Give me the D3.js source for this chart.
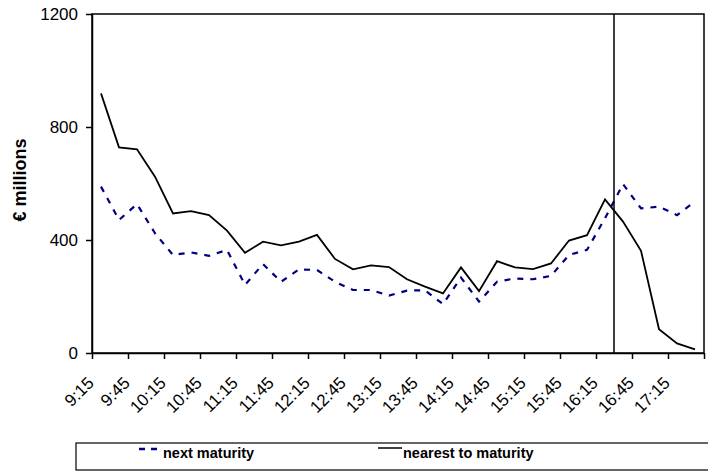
<!DOCTYPE html>
<html>
<head>
<meta charset="utf-8">
<script src="https://cdn.jsdelivr.net/npm/d3@7"></script>
<style>
  body { margin: 0; background: #fff; }
  svg { display: block; font-family: "Liberation Sans", Arial, sans-serif; }
  .axis path, .axis line { stroke: #000; stroke-width: 1.5; }
  .axis text { font-size: 17px; fill: #000; }
</style>
</head>
<body>
<script>

// 15 minute slots, 9:15 .. 17:30
var times = ["9:15","9:30","9:45","10:00","10:15","10:30","10:45","11:00","11:15","11:30",
             "11:45","12:00","12:15","12:30","12:45","13:00","13:15","13:30","13:45","14:00",
             "14:15","14:30","14:45","15:00","15:15","15:30","15:45","16:00","16:15","16:30",
             "16:45","17:00","17:15","17:30"];

var nextMaturity = [589, 471, 527, 424, 347, 356, 344, 365, 241, 315,
                    252, 296, 294, 252, 223, 223, 203, 221, 222, 173,
                    267, 182, 252, 264, 261, 273, 347, 365, 477, 598,
                    512, 518, 488, 536];

var nearestMaturity = [919, 728, 721, 624, 494, 502, 488, 433, 355, 394,
                       381, 394, 418, 333, 296, 310, 304, 261, 235, 211,
                       303, 219, 325, 303, 297, 317, 398, 417, 544, 465,
                       362, 84, 34, 13];

var yTicks = [0, 400, 800, 1200];
var expirySlot = "16:30";   // vertical marker sits on the left edge of this slot

var width = 708, height = 475;
var margin = {top: 14, right: 4, bottom: 122, left: 92};
var plotW = width - margin.left - margin.right,
    plotH = height - margin.top - margin.bottom;

var svg = d3.select("body").append("svg")
    .attr("width", width)
    .attr("height", height);

var g = svg.append("g")
    .attr("transform", "translate(" + margin.left + "," + margin.top + ")");

// index scale: slot i covers [i, i+1]
var x = d3.scaleLinear().domain([0, times.length]).range([0, plotW]);
var y = d3.scaleLinear().domain([0, 1200]).range([plotH, 0]);

// frame (top + right edge)
g.append("rect")
    .attr("width", plotW).attr("height", plotH)
    .attr("fill", "none").attr("stroke", "#000").attr("stroke-width", 1.5);

// y axis
g.append("g").attr("class", "axis")
    .call(d3.axisLeft(y).tickValues(yTicks).tickFormat(d3.format("d"))
      .tickSize(6).tickPadding(8).tickSizeOuter(0));

// x axis, ticks every 30 minutes
var xAxis = g.append("g").attr("class", "axis")
    .attr("transform", "translate(0," + plotH + ")")
    .call(d3.axisBottom(x).tickValues(d3.range(0, times.length + 1, 2))
      .tickFormat("").tickSize(6).tickSizeOuter(0));

xAxis.selectAll(".lbl")
    .data(times.filter(function(d, i) { return i % 2 == 0; }))
    .enter().append("text")
    .attr("class", "lbl")
    .attr("text-anchor", "end")
    .attr("transform", function(d, i) {
      return "translate(" + (x(i * 2 + 0.5) - 6) + ",31) rotate(-45)";
    })
    .text(function(d) { return d; });

// y axis title
svg.append("text")
    .attr("transform", "translate(26,180) rotate(-90)")
    .attr("text-anchor", "middle")
    .style("font-size", "18px")
    .style("font-weight", "bold")
    .text("€ millions");

var line = function(vals) {
  return d3.line()
    .x(function(d, i) { return x(i + 0.5); })
    .y(function(d) { return y(d); })(vals);
};

g.append("path")
    .attr("d", line(nextMaturity))
    .attr("fill", "none")
    .attr("stroke", "#000080")
    .attr("stroke-width", 2.2)
    .attr("stroke-dasharray", "6,7");

g.append("path")
    .attr("d", line(nearestMaturity))
    .attr("fill", "none")
    .attr("stroke", "#000")
    .attr("stroke-width", 1.8);

// expiry marker
var ex = x(times.indexOf(expirySlot));
g.append("line")
    .attr("x1", ex).attr("x2", ex)
    .attr("y1", y(1200)).attr("y2", y(0))
    .attr("stroke", "#000").attr("stroke-width", 1.5);

// legend
var leg = svg.append("g").attr("transform", "translate(76,443)");
leg.append("rect")
    .attr("width", 650).attr("height", 27)
    .attr("fill", "#fff").attr("stroke", "#000").attr("stroke-width", 1.2);

leg.append("line")
    .attr("x1", 63).attr("x2", 81).attr("y1", 6).attr("y2", 6)
    .attr("stroke", "#000080").attr("stroke-width", 2.5)
    .attr("stroke-dasharray", "6,6");
leg.append("text")
    .attr("x", 87).attr("y", 14.5)
    .style("font-size", "14.5px").style("font-weight", "bold")
    .text("next maturity");

leg.append("line")
    .attr("x1", 302).attr("x2", 326).attr("y1", 5).attr("y2", 5)
    .attr("stroke", "#000").attr("stroke-width", 1.5);
leg.append("text")
    .attr("x", 327).attr("y", 14.5)
    .style("font-size", "14.5px").style("font-weight", "bold")
    .text("nearest to maturity");

</script>
</body>
</html>
